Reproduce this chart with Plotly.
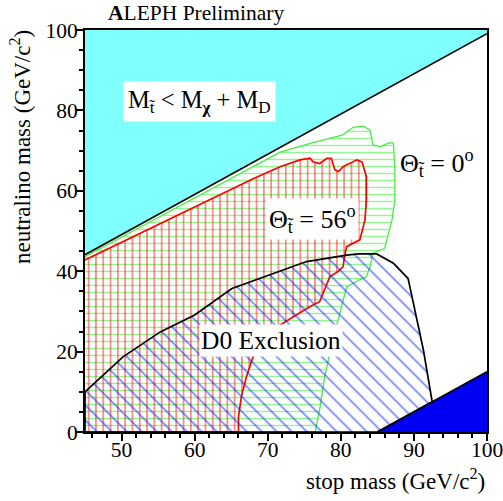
import plotly.graph_objects as go

# Kinematic limit M_stop = M_chi + M_D (upper-left, shaded cyan)
kin_x = [45, 100]
kin_y = [44.1, 99.1]

# Lower-right kinematically forbidden corner (solid blue)
corner_x = [85.0, 100.0, 100.0]
corner_y = [0.0, 15.0, 0.0]

# Excluded region, mixing angle 0 degrees (green outline)
green_x = [45, 60, 68, 71.7, 76.2, 80.3, 80.8, 81.7, 83.1, 84.0, 84.4, 85.4, 86.7,
           87.2, 87.4, 87.4, 87.0, 86.0, 84.4, 84.0, 83.5, 82.2, 80.8, 80.3, 79.4,
           78.5, 77.8, 77.1, 76.5, 45]
green_y = [43.6, 58.2, 65.8, 69.6, 72.0, 73.9, 74.7, 75.8, 76.1, 75.1, 71.4, 71.0, 72.0,
           71.8, 65.2, 57.7, 52.7, 45.7, 44.5, 41.1, 38.6, 37.5, 36.1, 32.8, 26.2,
           19.6, 13.8, 5.5, 0, 0]

# Excluded region, mixing angle 56 degrees (red outline)
red_x = [45, 55, 62.6, 68, 71.7, 74.4, 75.8, 76.2, 77.1, 78.1, 78.7, 79.2, 79.7,
         80.3, 82.2, 82.9, 83.5, 83.5, 83.3, 82.6, 80.8, 80.6, 80.3, 79.6, 78.5,
         77.1, 75.8, 73.5, 71.7, 69.9, 68.0, 67.1, 66.4, 66.0, 66.0, 45]
red_y = [42.8, 51.5, 58.2, 63.0, 66.0, 67.7, 68.1, 67.2, 66.8, 68.1, 68.1, 65.2, 64.8,
         66.0, 67.7, 67.2, 63.5, 57.7, 52.7, 47.8, 46.1, 44.5, 41.1, 39.9, 38.6,
         32.4, 31.2, 28.7, 26.6, 24.6, 18.7, 13.8, 8.8, 3.8, 0, 0]

# D0 exclusion contour
d0_x = [45, 45, 50.2, 55.3, 60.0, 65.1, 70.3, 75.3, 80.8, 82.4, 84.9, 87.2, 89.2,
        89.9, 91.3, 92.5, 85.0, 45]
d0_y = [0, 10.0, 18.7, 24.9, 29.1, 35.7, 39.1, 42.4, 44.0, 44.3, 44.3, 42.0, 38.2,
        32.0, 20.4, 7.5, 0, 0]

x_ticks = [50, 60, 70, 80, 90, 100]
y_ticks = [0, 20, 40, 60, 80, 100]

SERIF = "Liberation Serif"
NONE = "rgba(0,0,0,0)"

fig = go.Figure()

# cyan band above the kinematic limit
fig.add_trace(go.Scatter(
    x=kin_x + [kin_x[1], kin_x[0]], y=kin_y + [100, 100],
    fill="toself", fillcolor="#80ffff", line=dict(width=0),
    mode="lines", hoverinfo="skip", showlegend=False))

# blue forbidden corner
fig.add_trace(go.Scatter(
    x=corner_x, y=corner_y, fill="toself", fillcolor="#0000f5",
    line=dict(width=0), mode="lines", hoverinfo="skip", showlegend=False))

# green horizontal hatch
fig.add_trace(go.Scatter(
    x=green_x, y=green_y, fill="toself", fillcolor=NONE,
    fillpattern=dict(shape="-", fgcolor="#22ee22", bgcolor=NONE, size=7, solidity=0.2),
    line=dict(color="#44ee44", width=1.3), mode="lines",
    hoverinfo="skip", showlegend=False))

# red vertical hatch
fig.add_trace(go.Scatter(
    x=red_x, y=red_y, fill="toself", fillcolor=NONE,
    fillpattern=dict(shape="|", fgcolor="#ff0000", bgcolor=NONE, size=7.3, solidity=0.22),
    line=dict(color="#ff0000", width=1.7), mode="lines",
    hoverinfo="skip", showlegend=False))

# D0 diagonal hatch
fig.add_trace(go.Scatter(
    x=d0_x, y=d0_y, fill="toself", fillcolor=NONE,
    fillpattern=dict(shape="\\", fgcolor="#0018ff", bgcolor=NONE, size=10.6, solidity=0.17),
    line=dict(color="black", width=1.7), mode="lines",
    hoverinfo="skip", showlegend=False))

# black limit lines
fig.add_trace(go.Scatter(
    x=kin_x, y=kin_y, mode="lines", line=dict(color="black", width=1.7),
    hoverinfo="skip", showlegend=False))
fig.add_trace(go.Scatter(
    x=corner_x[:2], y=corner_y[:2], mode="lines", line=dict(color="black", width=1.7),
    hoverinfo="skip", showlegend=False))

axis_common = dict(
    showgrid=False, zeroline=False, showline=True, linecolor="black", linewidth=2,
    mirror=True, ticks="outside", ticklen=7, tickwidth=1.5, tickcolor="black",
    tickfont=dict(family=SERIF, size=21.5, color="black"),
    ticklabeloverflow="allow", automargin=False,
)

fig.update_xaxes(range=[45, 100], tickvals=x_ticks, ticklabelstandoff=-10,
                 minor=dict(dtick=2, tick0=0, ticks="outside", ticklen=4, tickcolor="black"),
                 **axis_common)
fig.update_yaxes(range=[0, 100], tickvals=y_ticks, ticklabelstandoff=-6,
                 minor=dict(dtick=5, tick0=0, ticks="outside", ticklen=4, tickcolor="black"),
                 **axis_common)

annotations = [
    dict(text="<b>A</b>LEPH Preliminary", x=196, y=13, size=21.5),
    dict(text="M<sub>t\u0303</sub> &lt; M<sub><b>\u03c7</b></sub> + M<sub>D</sub>",
         x=199, y=102, size=24.5, bgcolor="white", borderpad=4),
    dict(text="\u0398<sub>t\u0303</sub> = 0<sup>o</sup>", x=437, y=163, size=26),
    dict(text="\u0398<sub>t\u0303</sub> = 56<sup>o</sup>", x=312, y=219, size=26,
         bgcolor="white", borderpad=2),
    dict(text="D0 Exclusion", x=271, y=340, size=25.5, bgcolor="white", borderpad=1),
]

W, H = 503, 501
L, R, T, B = 85, 16, 30, 69
pw, ph = W - L - R, H - T - B

for a in annotations:
    fig.add_annotation(
        text=a["text"], xref="paper", yref="paper",
        x=(a["x"] - L) / pw, y=(H - B - a["y"]) / ph,
        xanchor="center", yanchor="middle", showarrow=False,
        font=dict(family=SERIF, color="black", size=a["size"]),
        bgcolor=a.get("bgcolor", NONE), borderpad=a.get("borderpad", 0))

# axis titles
fig.add_annotation(text="stop mass (GeV/c<sup>2</sup>)", xref="paper", yref="paper",
                   x=1.0, y=(H - B - 480) / ph, xanchor="right", yanchor="middle",
                   showarrow=False, font=dict(family=SERIF, size=23, color="black"))
fig.add_annotation(text="neutralino mass (GeV/c<sup>2</sup>)", xref="paper", yref="paper",
                   x=(20 - L) / pw, y=(H - B - 147) / ph, xanchor="center", yanchor="middle",
                   textangle=-90, showarrow=False,
                   font=dict(family=SERIF, size=23, color="black"))

fig.update_layout(
    width=W, height=H, margin=dict(l=L, r=R, t=T, b=B, autoexpand=False),
    plot_bgcolor="white", paper_bgcolor="white",
    font=dict(family=SERIF, color="black"),
)

fig.write_html("out.html")
